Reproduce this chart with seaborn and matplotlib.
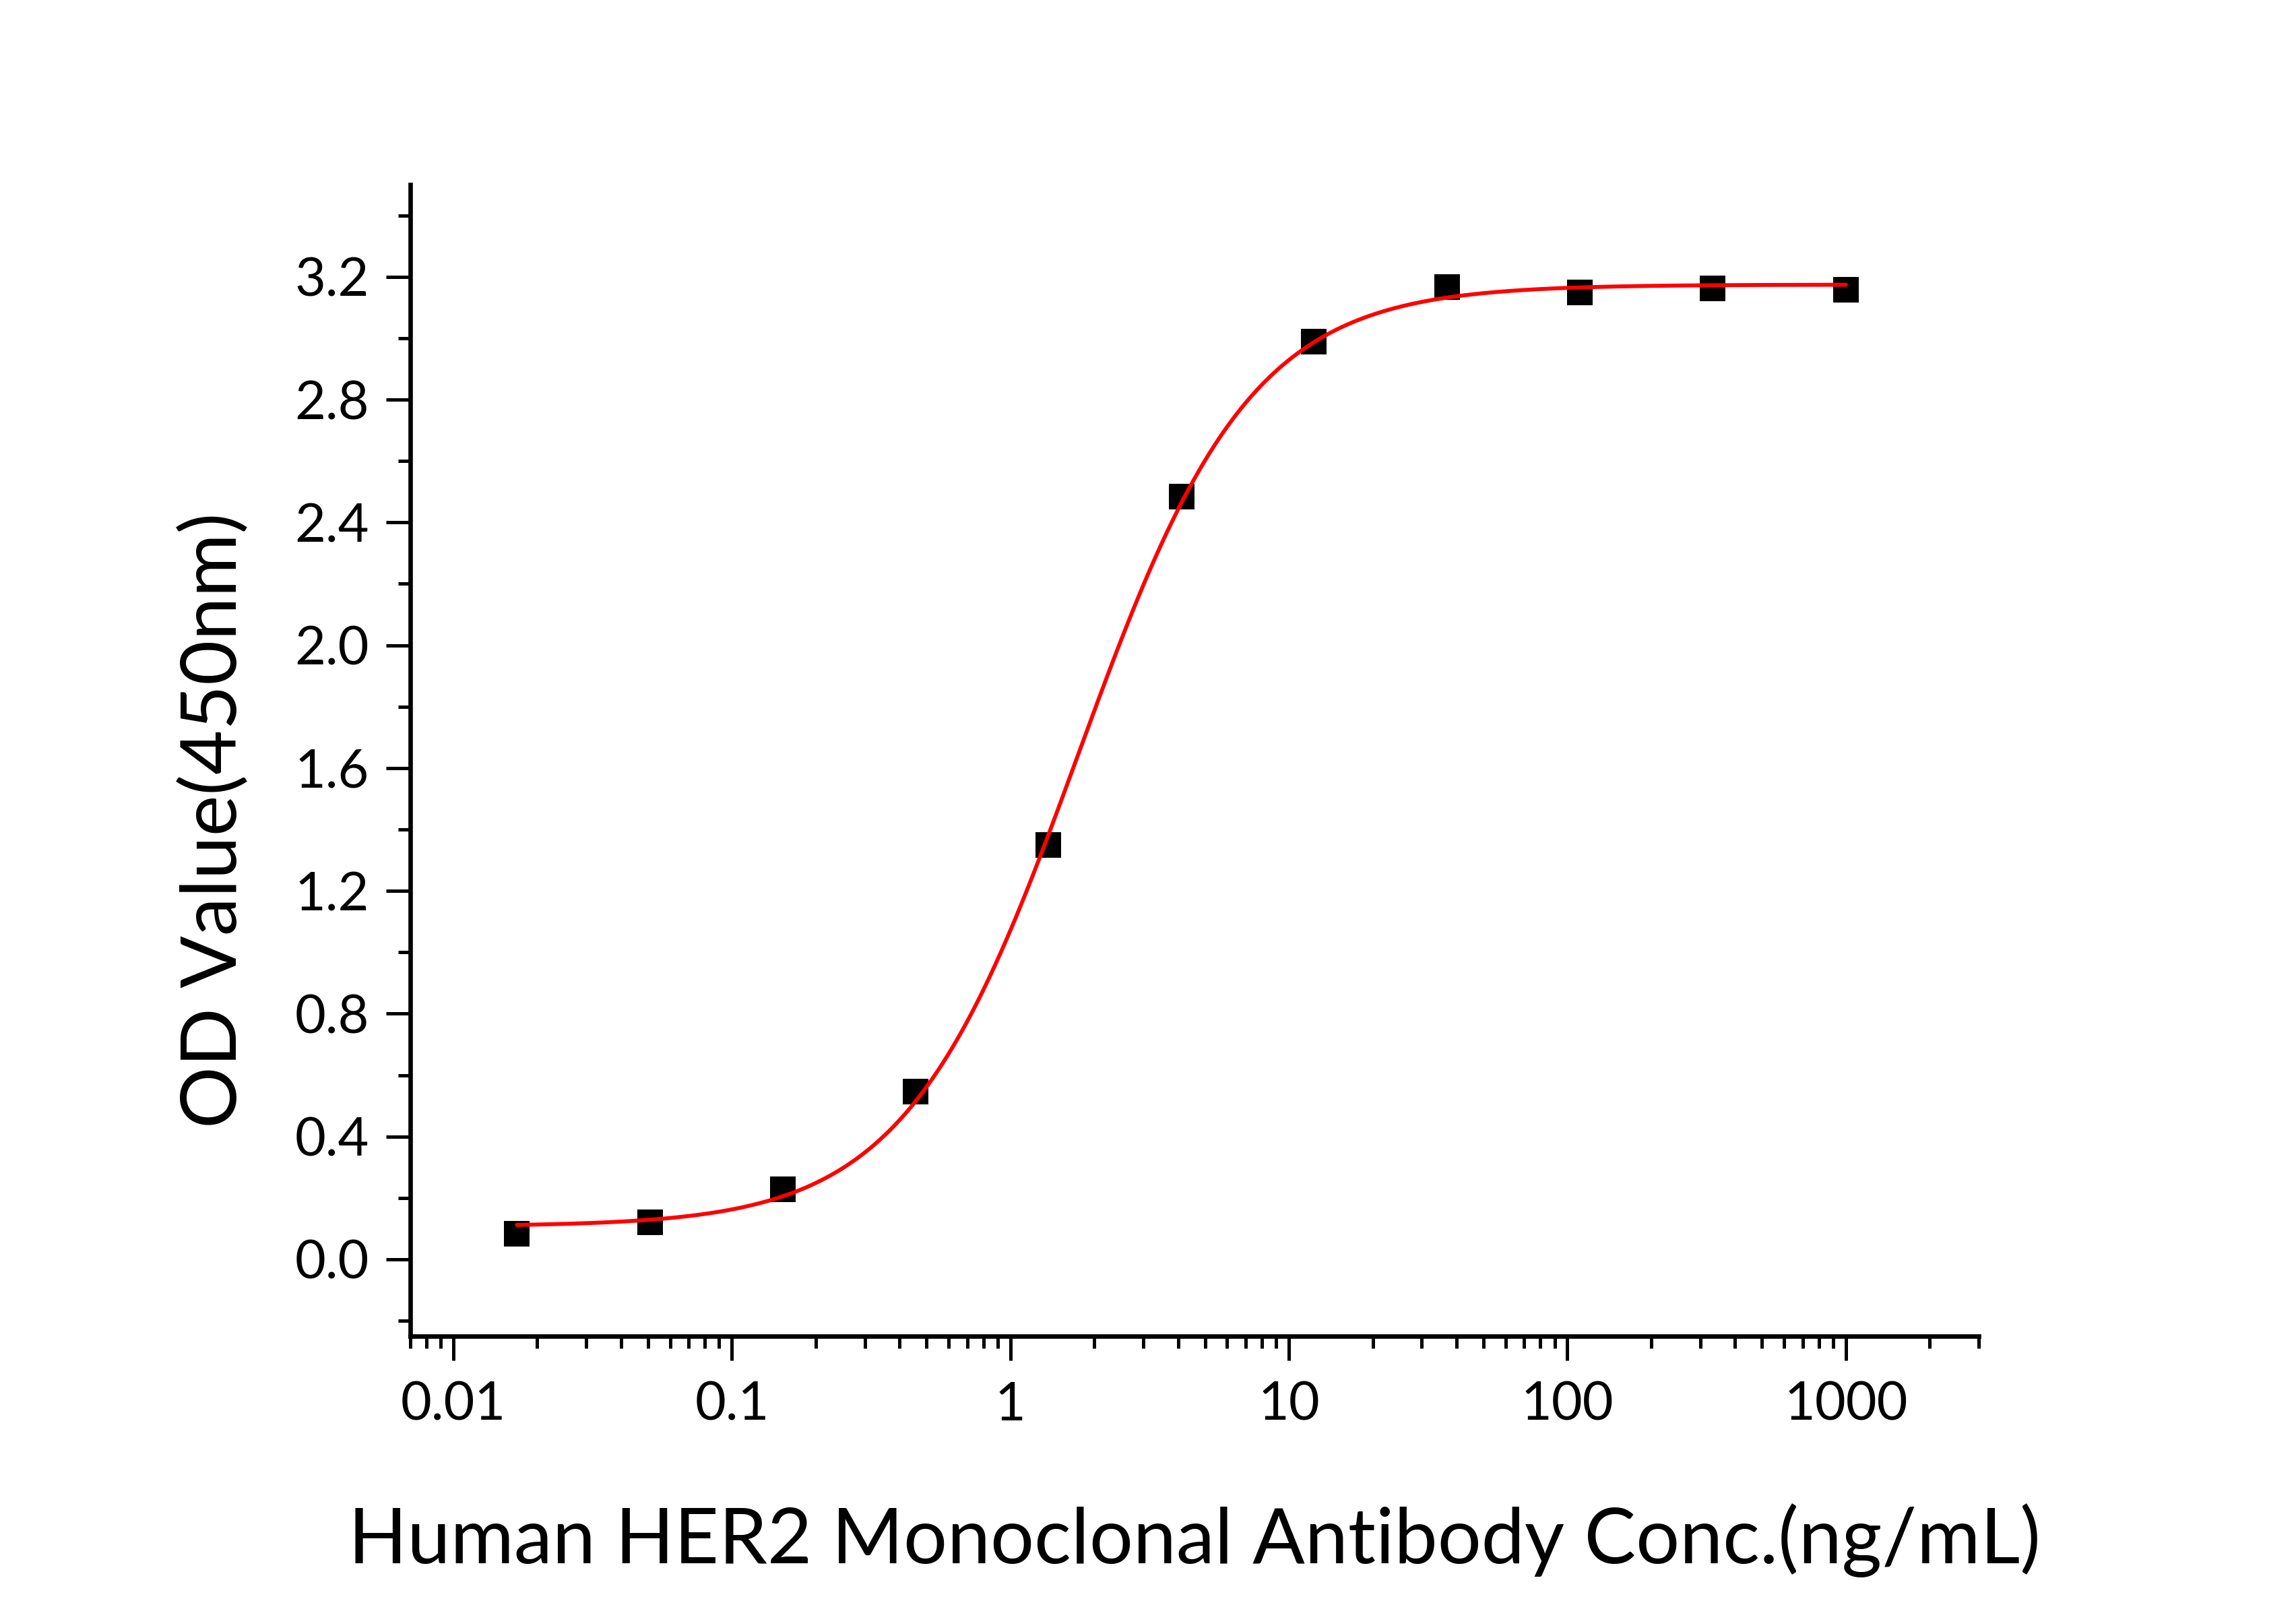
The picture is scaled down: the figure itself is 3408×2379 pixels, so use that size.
import matplotlib
matplotlib.use('Agg')
import matplotlib.pyplot as plt
import matplotlib.ticker as mticker
import numpy as np
import pandas as pd
import seaborn as sns

# 3-fold dilution series
conc = [0.0169, 0.0508, 0.152, 0.457, 1.37, 4.12, 12.3, 37.0, 111.0, 333.0, 1000.0]
od = [0.084, 0.121, 0.229, 0.547, 1.349, 2.484, 2.989, 3.167, 3.149, 3.163, 3.158]

xtick_vals = [0.01, 0.1, 1, 10, 100, 1000]
xtick_labels = ['0.01', '0.1', '1', '10', '100', '1000']
ytick_vals = [0.0, 0.4, 0.8, 1.2, 1.6, 2.0, 2.4, 2.8, 3.2]

data = pd.DataFrame({'conc': conc, 'od': od})


# four parameter logistic fit of the points (simple Levenberg-Marquardt)
def four_pl(x, p):
    bottom, top, log_ec50, hill = p
    return bottom + (top - bottom) / (1 + 10 ** ((log_ec50 - np.log10(x)) * hill))


x_arr = data.conc.values
y_arr = data.od.values
p = np.array([0.08, 3.16, 0.25, 1.2])
lam = 1e-3
for i in range(300):
    r = y_arr - four_pl(x_arr, p)
    J = np.zeros((len(x_arr), 4))
    for k in range(4):
        dp = np.zeros(4)
        dp[k] = 1e-6
        J[:, k] = (four_pl(x_arr, p + dp) - four_pl(x_arr, p - dp)) / 2e-6
    A = J.T @ J
    step = np.linalg.solve(A + lam * np.diag(np.diag(A)), J.T @ r)
    new_p = p + step
    if np.sum((y_arr - four_pl(x_arr, new_p)) ** 2) < np.sum(r ** 2):
        p = new_p
        lam *= 0.5
    else:
        lam *= 4

x_fit = np.logspace(np.log10(min(conc)), np.log10(max(conc)), 500)
fit = pd.DataFrame({'conc': x_fit, 'od': four_pl(x_fit, p)})

sns.set_theme(style='ticks')
plt.rcParams['font.family'] = ['Lato', 'DejaVu Sans']

fig = plt.figure(figsize=(11.36, 7.93), dpi=300)
ax = fig.add_subplot()
fig.subplots_adjust(left=0.1787, right=0.8618, bottom=0.1665, top=0.8848)

sns.lineplot(x='conc', y='od', data=fit, color='#ff0000', linewidth=1.4, ax=ax, zorder=3)
sns.scatterplot(x='conc', y='od', data=data, marker='s', color='black', s=82,
                linewidth=0, ax=ax, zorder=2)

ax.set_xscale('log')
ax.set_xlim(0.007, 3000)
ax.set_ylim(-0.25, 3.5)

ax.set_xticks(xtick_vals)
ax.set_xticklabels(xtick_labels)
ax.xaxis.set_minor_locator(mticker.LogLocator(base=10, subs=np.arange(2, 10)))
ax.xaxis.set_minor_formatter(mticker.NullFormatter())
ax.set_yticks(ytick_vals)
ax.yaxis.set_major_formatter(mticker.FormatStrFormatter('%.1f'))
ax.yaxis.set_minor_locator(mticker.MultipleLocator(0.2))

for side in ['top', 'right']:
    ax.spines[side].set_visible(False)
for side in ['left', 'bottom']:
    ax.spines[side].set_linewidth(1.6)
    ax.spines[side].set_color('black')

ax.tick_params(which='major', direction='out', length=8.6, width=1.2, color='black',
               labelsize=19, pad=6, labelcolor='black')
ax.tick_params(which='minor', direction='out', length=4.4, width=1.2, color='black')
ax.tick_params(axis='x', which='major', pad=7.5)

ax.set_xlabel('Human HER2 Monoclonal Antibody Conc.(ng/mL)', fontsize=27.5, color='black')
ax.set_ylabel('OD Value(450nm)', fontsize=27.5, color='black')
ax.xaxis.set_label_coords(0.5, -0.145)
ax.yaxis.set_label_coords(-0.102, 0.448)

plt.savefig('out.png', dpi=300, facecolor='white')
